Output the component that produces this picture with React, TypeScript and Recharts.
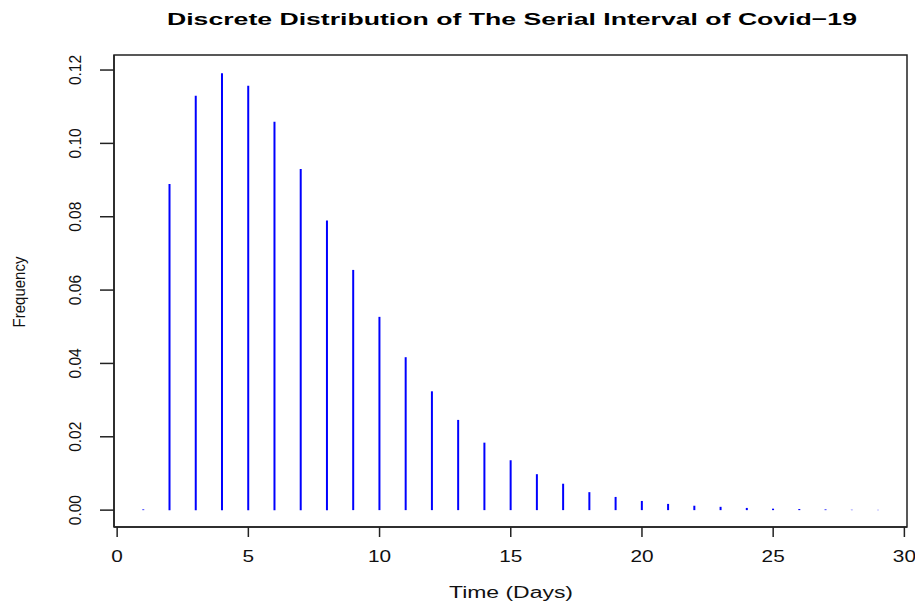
import React from 'react';
import { BarChart, Bar, XAxis, YAxis, ReferenceArea } from 'recharts';

const days = [1, 2, 3, 4, 5, 6, 7, 8, 9, 10, 11, 12, 13, 14, 15, 16, 17, 18, 19, 20, 21, 22, 23, 24, 25, 26, 27, 28, 29];
const frequency = [
  0.0002, 0.0889, 0.1130, 0.1191, 0.1157, 0.1059, 0.0930, 0.0790, 0.0655, 0.0527,
  0.0417, 0.0324, 0.0246, 0.0184, 0.0136, 0.0098, 0.0072, 0.0049, 0.0036, 0.0025,
  0.0017, 0.0012, 0.0009, 0.0006, 0.0004, 0.0003, 0.0002, 0.0001, 0.00007,
];
const xTicks = [0, 5, 10, 15, 20, 25, 30];
const yTicks = [0, 0.02, 0.04, 0.06, 0.08, 0.1, 0.12];

const title = 'Discrete Distribution of The Serial Interval of Covid\u221219';
const xTitle = 'Time (Days)';
const yTitle = 'Frequency';

const X_DOMAIN: [number, number] = [-0.12, 30.1];
const Y_DOMAIN: [number, number] = [-0.0046, 0.1241];

const data = days.map((d, i) => ({ day: d, freq: frequency[i] }));

const FONT = '"Liberation Sans", Arial, sans-serif';

const XTick = (props: any) => {
  const { x, y, payload } = props;
  return (
    <text
      transform={`translate(${x},${y + 23}) scale(1.3,1)`}
      textAnchor="middle"
      fontFamily={FONT}
      fontSize={16}
      fill="#111"
    >
      {payload.value}
    </text>
  );
};

const YTick = (props: any) => {
  const { y, payload } = props;
  return (
    <text
      transform={`translate(81,${y}) rotate(-90) scale(1,1.1)`}
      textAnchor="middle"
      fontFamily={FONT}
      fontSize={15.5}
      fill="#111"
    >
      {Number(payload.value).toFixed(2)}
    </text>
  );
};

const XTitleLabel = () => (
  <g>
    <text
      x={512}
      y={25}
      textAnchor="middle"
      fontFamily={FONT}
      fontWeight="bold"
      fontSize={17}
      textLength={690}
      lengthAdjust="spacingAndGlyphs"
      fill="#000"
    >
      {title}
    </text>
    <text
      x={511}
      y={598}
      textAnchor="middle"
      fontFamily={FONT}
      fontSize={16}
      textLength={124}
      lengthAdjust="spacingAndGlyphs"
      fill="#111"
    >
      {xTitle}
    </text>
  </g>
);

const YTitleLabel = () => (
  <text
    transform="translate(25,292) rotate(-90) scale(1,1.15)"
    textAnchor="middle"
    fontFamily={FONT}
    fontSize={15}
    fill="#111"
  >
    {yTitle}
  </text>
);

export default function App() {
  return (
    <div style={{ position: 'absolute', left: 0, top: 0, width: 915, height: 604, background: '#fff' }}>
      <BarChart
        width={915}
        height={604}
        data={data}
        margin={{ top: 55, right: 8, left: 0, bottom: 0 }}
        barCategoryGap={0}
      >
        <XAxis
          dataKey="day"
          type="number"
          domain={X_DOMAIN}
          allowDataOverflow
          ticks={xTicks}
          height={77}
          tickSize={10}
          tickLine={{ stroke: '#222', strokeWidth: 1.5 }}
          axisLine={{ stroke: '#222', strokeWidth: 1.5 }}
          tick={<XTick />}
          interval={0}
          label={<XTitleLabel />}
        />
        <YAxis
          type="number"
          domain={Y_DOMAIN}
          allowDataOverflow
          ticks={yTicks}
          width={114}
          tickSize={14}
          tickLine={{ stroke: '#222', strokeWidth: 1.5 }}
          axisLine={{ stroke: '#222', strokeWidth: 1.5 }}
          tick={<YTick />}
          interval={0}
          label={<YTitleLabel />}
        />
        <ReferenceArea
          x1={X_DOMAIN[0]}
          x2={X_DOMAIN[1]}
          y1={Y_DOMAIN[0]}
          y2={Y_DOMAIN[1]}
          fill="none"
          fillOpacity={0}
          stroke="#222"
          strokeWidth={1.5}
          strokeOpacity={1}
          ifOverflow="visible"
        />
        <Bar dataKey="freq" fill="#0000FF" barSize={2} isAnimationActive={false} />
      </BarChart>
    </div>
  );
}
